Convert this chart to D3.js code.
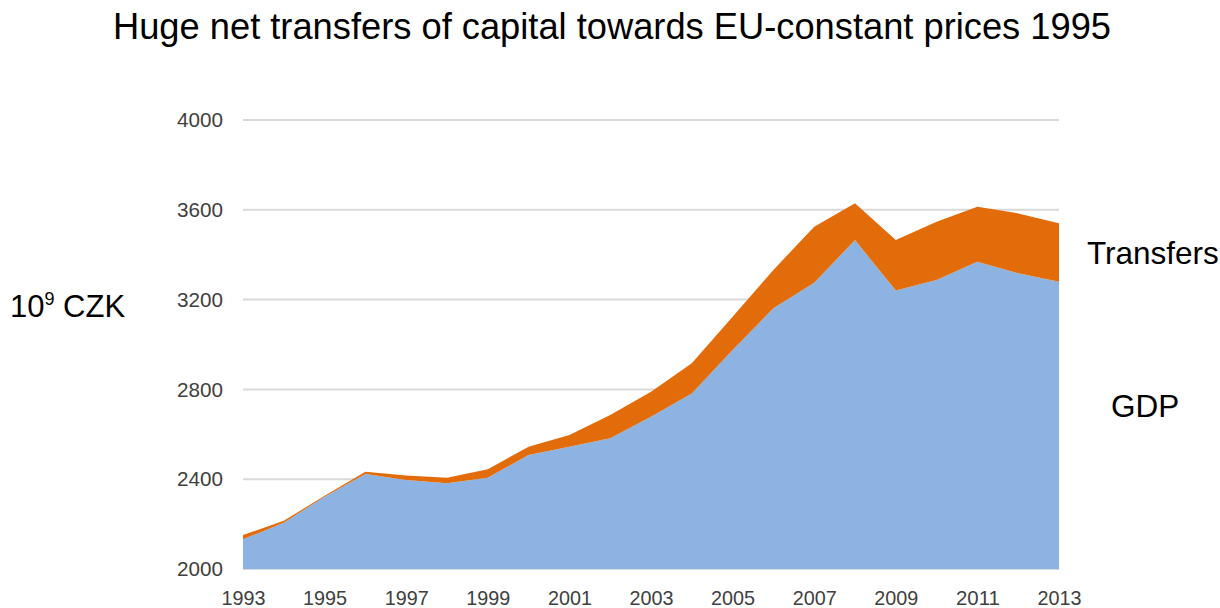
<!DOCTYPE html>
<html>
<head>
<meta charset="utf-8">
<script src="https://cdn.jsdelivr.net/npm/d3@7"></script>
<style>
  body { margin: 0; background: #fff; }
  svg { display: block; }
</style>
</head>
<body>
<div id="chart"></div>
<script>
(function(){

  var W = 1220, H = 608;

  // data (10^9 CZK, constant prices 1995)
  var years = [1993,1994,1995,1996,1997,1998,1999,2000,2001,2002,2003,2004,2005,2006,2007,2008,2009,2010,2011,2012,2013];
  var gdp = [2132,2206,2322,2423,2396,2382,2407,2508,2545,2582,2678,2782,2975,3161,3275,3465,3240,3287,3369,3317,3280];
  var transfers = [19,9,4,10,20,25,37,37,52,104,112,134,149,171,250,164,225,260,245,267,260];
  var yTicks = [2000,2400,2800,3200,3600,4000];
  var xTicks = [1993,1995,1997,1999,2001,2003,2005,2007,2009,2011,2013];

  var margin = {left: 243, right: 161, top: 120, bottom: 39};

  var x = d3.scaleLinear()
    .domain([1993, 2013])
    .range([margin.left, W - margin.right]);

  var y = d3.scaleLinear()
    .domain([2000, 4000])
    .range([H - margin.bottom, margin.top]);

  var rows = years.map(function(yr, i){
    return {year: yr, gdp: gdp[i], transfers: transfers[i]};
  });

  var stack = d3.stack().keys(["gdp", "transfers"]);
  var series = stack(rows);

  var colors = {gdp: "#8db3e2", transfers: "#e36c0a"};
  var font = "'Liberation Sans', Arial, sans-serif";

  var svg = d3.select("#chart")
    .append("svg")
    .attr("width", W)
    .attr("height", H);

  // title
  svg.append("text")
    .attr("x", 612)
    .attr("y", 39)
    .attr("text-anchor", "middle")
    .attr("textLength", 998)
    .attr("lengthAdjust", "spacingAndGlyphs")
    .style("font-family", font)
    .style("font-size", "36px")
    .style("fill", "#000")
    .text("Huge net transfers of capital towards EU-constant prices 1995");

  // gridlines
  svg.append("g")
    .selectAll("line")
    .data(yTicks)
    .enter()
    .append("line")
    .attr("x1", x(1993))
    .attr("x2", x(2013))
    .attr("y1", function(d){ return y(d); })
    .attr("y2", function(d){ return y(d); })
    .style("stroke", "#d9d9d9")
    .style("stroke-width", 2);

  // stacked areas
  var area = d3.area()
    .x(function(d){ return x(d.data.year); })
    .y0(function(d){ return y(Math.max(d[0], 2000)); })
    .y1(function(d){ return y(d[1]); });

  svg.append("g")
    .selectAll("path")
    .data(series)
    .enter()
    .append("path")
    .attr("d", area)
    .style("fill", function(d){ return colors[d.key]; });

  // y axis
  var yAxis = d3.axisLeft(y)
    .tickValues(yTicks)
    .tickFormat(d3.format("d"))
    .tickSize(0)
    .tickPadding(20);

  var gy = svg.append("g")
    .attr("transform", "translate(" + x(1993) + ",0)")
    .call(yAxis);
  gy.select(".domain").remove();
  gy.selectAll("text")
    .attr("textLength", 46)
    .attr("lengthAdjust", "spacingAndGlyphs")
    .style("font-family", font)
    .style("font-size", "21px")
    .style("fill", "#404040");

  // x axis
  var xAxis = d3.axisBottom(x)
    .tickValues(xTicks)
    .tickFormat(d3.format("d"))
    .tickSize(0)
    .tickPadding(21);

  var gx = svg.append("g")
    .attr("transform", "translate(0," + y(2000) + ")")
    .call(xAxis);
  gx.select(".domain").remove();
  gx.selectAll("text")
    .attr("textLength", 44)
    .attr("lengthAdjust", "spacingAndGlyphs")
    .style("font-family", font)
    .style("font-size", "21px")
    .style("fill", "#404040");

  // unit label
  var unit = svg.append("text")
    .attr("x", 10)
    .attr("y", 317)
    .style("font-family", font)
    .style("font-size", "31px")
    .style("fill", "#000");
  unit.append("tspan").text("10");
  unit.append("tspan")
    .attr("dy", -12)
    .style("font-size", "18px")
    .text("9");
  unit.append("tspan")
    .attr("dy", 12)
    .text(" CZK");

  // series labels
  svg.append("text")
    .attr("x", 1087)
    .attr("y", 264)
    .style("font-family", font)
    .style("font-size", "31.5px")
    .text("Transfers");

  svg.append("text")
    .attr("x", 1111)
    .attr("y", 417)
    .style("font-family", font)
    .style("font-size", "31.5px")
    .text("GDP");

})();
</script>
</body>
</html>
